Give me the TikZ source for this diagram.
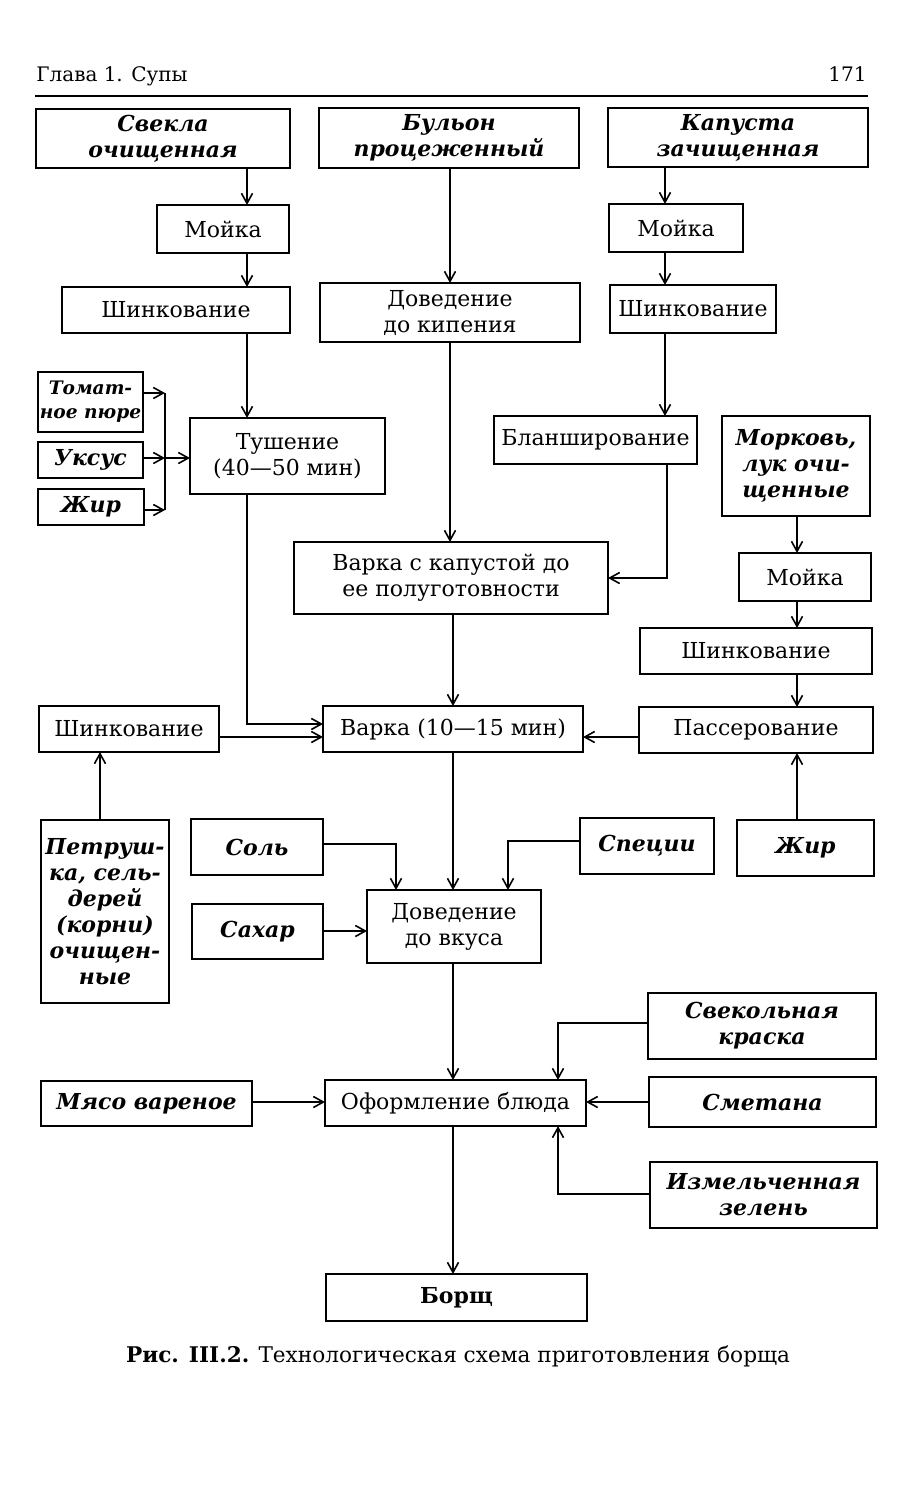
\documentclass[tikz,border=0pt]{standalone}
\usepackage{fontspec}
\setmainfont{DejaVu Serif}
\usetikzlibrary{arrows.meta}
\tikzset{
 box/.style={draw, line width=1.0pt, inner sep=0pt, outer sep=0pt, align=center, font=\fontsize{11}{13}\selectfont},
 ibox/.style={box, line width=1.4pt, font=\fontsize{11}{13}\selectfont\bfseries\itshape},
 corners/.style n args={4}{at={({(#1+#3)/2},{(#2+#4)/2})}, minimum width={(#3-#1)*0.5pt}, minimum height={(#4-#2)*0.5pt}},
 arr/.style={line width=0.8pt, -{Straight Barb[length=5pt,width=5.5pt]}},
 ln/.style={line width=0.8pt},
}
\begin{document}
\begin{tikzpicture}[x=0.5pt,y=-0.5pt]
\useasboundingbox (0,0) rectangle (920,1500);
\fill[white] (0,0) rectangle (920,1500);

% header
\node[anchor=base west, inner sep=0pt, font=\fontsize{10}{12}\selectfont] (hdr) at (36,81) {Глава 1. Супы};
\node[anchor=base east, inner sep=0pt, font=\fontsize{10}{12}\selectfont] (pg) at (867,81) {171};
\coordinate (hl) at (35,96);
\coordinate (hr) at (868,96);
\draw[line width=0.9pt] (hl) -- (hr);

% column / row coordinates
\coordinate (c1) at (247,0);
\coordinate (c2) at (450,0);
\coordinate (c2b) at (453,0);
\coordinate (c3) at (665,0);
\coordinate (c3b) at (667,0);
\coordinate (c4) at (797,0);
\coordinate (c5) at (100,0);
\coordinate (c6) at (396,0);
\coordinate (c7) at (508,0);
\coordinate (c8) at (558,0);
\coordinate (br) at (165,0);
\coordinate (yt) at (0,393);
\coordinate (yu) at (0,458);
\coordinate (yz) at (0,510);
\coordinate (yb) at (0,578);
\coordinate (r1) at (0,724);
\coordinate (r2) at (0,737);
\coordinate (ys) at (0,844);
\coordinate (ysp) at (0,841);
\coordinate (ysa) at (0,931);
\coordinate (yk) at (0,1023);
\coordinate (ysm) at (0,1102);
\coordinate (yzl) at (0,1194);

% top row
\node[ibox, corners={36}{109}{290}{168}] (svekla) {Свекла\\очищенная};
\node[ibox, corners={319}{108}{579}{168}] (bulon) {Бульон\\процеженный};
\node[ibox, corners={608}{108}{868}{167}] (kapusta) {Капуста\\зачищенная};

\node[box, corners={157}{205}{289}{253}] (moika1) {Мойка};
\node[box, corners={609}{204}{743}{252}] (moika2) {Мойка};
\node[box, corners={62}{287}{290}{333}] (shink1) {Шинкование};
\node[box, corners={320}{283}{580}{342}] (dovkip) {Доведение\\до кипения};
\node[box, corners={610}{285}{776}{333}] (shink2) {Шинкование};

\node[ibox, corners={38}{372}{143}{432}, font=\fontsize{9.3}{12}\selectfont\bfseries\itshape] (tomat) {Томат-\\ное пюре};
\node[ibox, corners={38}{442}{143}{478}] (uksus) {Уксус};
\node[ibox, corners={38}{489}{144}{525}] (zhir1) {Жир};
\node[box, corners={190}{418}{385}{494}] (tush) {Тушение\\(40—50 мин)};
\node[box, corners={494}{416}{697}{464}] (blansh) {Бланширование};
\node[ibox, corners={722}{416}{870}{516}] (mork) {Морковь,\\лук очи-\\щенные};

\node[box, corners={294}{542}{608}{614}] (varkak) {Варка с капустой до\\ее полуготовности};
\node[box, corners={739}{553}{871}{601}] (moika3) {Мойка};
\node[box, corners={640}{628}{872}{674}] (shink3) {Шинкование};

\node[box, corners={39}{706}{219}{752}] (shink4) {Шинкование};
\node[box, corners={323}{706}{583}{752}] (varka) {Варка (10—15 мин)};
\node[box, corners={639}{707}{873}{753}] (pass) {Пассерование};

\node[ibox, corners={41}{820}{169}{1003}] (petr) {Петруш-\\ка, сель-\\дерей\\(корни)\\очищен-\\ные};
\node[ibox, corners={191}{819}{323}{875}] (sol) {Соль};
\node[ibox, corners={192}{904}{323}{959}] (sahar) {Сахар};
\node[box, corners={367}{890}{541}{963}] (dovk) {Доведение\\до вкуса};
\node[ibox, corners={580}{818}{714}{874}] (spec) {Специи};
\node[ibox, corners={737}{820}{874}{876}] (zhir2) {Жир};

\node[ibox, corners={648}{993}{876}{1059}] (kraska) {Свекольная\\краска};
\node[ibox, corners={41}{1081}{252}{1126}] (myaso) {Мясо вареное};
\node[box, corners={325}{1080}{586}{1126}] (oform) {Оформление блюда};
\node[ibox, corners={649}{1077}{876}{1127}] (smet) {Сметана};
\node[ibox, corners={650}{1162}{877}{1228}] (zelen) {Измельченная\\зелень};
\node[box, corners={326}{1274}{587}{1321}, font=\fontsize{11}{13}\selectfont\bfseries] (borsch) {Борщ};

% caption
\node[anchor=base, inner sep=0pt, font=\fontsize{10.8}{12}\selectfont] (cap) at (458,1362) {\textbf{Рис. III.2.} Технологическая схема приготовления борща};

% connectors: left column
\draw[arr] (svekla.south -| c1) -- (moika1.north -| c1);
\draw[arr] (moika1.south -| c1) -- (shink1.north -| c1);
\draw[arr] (shink1.south -| c1) -- (tush.north -| c1);
\draw[arr] (tush.south -| c1) |- (varka.west |- r1);

% bracket
\draw[arr] (tomat.east |- yt) -- (br |- yt);
\draw[arr] (uksus.east |- yu) -- (br |- yu);
\draw[arr] (zhir1.east |- yz) -- (br |- yz);
\draw[ln] (br |- yt) -- (br |- yz);
\draw[arr] (br |- yu) -- (tush.west |- yu);

% middle column
\draw[arr] (bulon.south -| c2) -- (dovkip.north -| c2);
\draw[arr] (dovkip.south -| c2) -- (varkak.north -| c2);
\draw[arr] (varkak.south -| c2b) -- (varka.north -| c2b);
\draw[arr] (varka.south -| c2b) -- (dovk.north -| c2b);
\draw[arr] (dovk.south -| c2b) -- (oform.north -| c2b);
\draw[arr] (oform.south -| c2b) -- (borsch.north -| c2b);

% cabbage column
\draw[arr] (kapusta.south -| c3) -- (moika2.north -| c3);
\draw[arr] (moika2.south -| c3) -- (shink2.north -| c3);
\draw[arr] (shink2.south -| c3) -- (blansh.north -| c3);
\draw[arr] (blansh.south -| c3b) |- (varkak.east |- yb);

% carrot column
\draw[arr] (mork.south -| c4) -- (moika3.north -| c4);
\draw[arr] (moika3.south -| c4) -- (shink3.north -| c4);
\draw[arr] (shink3.south -| c4) -- (pass.north -| c4);
\draw[arr] (zhir2.north -| c4) -- (pass.south -| c4);
\draw[arr] (pass.west |- r2) -- (varka.east |- r2);

% parsley
\draw[arr] (petr.north -| c5) -- (shink4.south -| c5);
\draw[arr] (shink4.east |- r2) -- (varka.west |- r2);

% seasoning
\draw[arr] (sol.east |- ys) -| (dovk.north -| c6);
\draw[arr] (spec.west |- ysp) -| (dovk.north -| c7);
\draw[arr] (sahar.east |- ysa) -- (dovk.west |- ysa);

% finishing
\draw[arr] (kraska.west |- yk) -| (oform.north -| c8);
\draw[arr] (zelen.west |- yzl) -| (oform.south -| c8);
\draw[arr] (smet.west |- ysm) -- (oform.east |- ysm);
\draw[arr] (myaso.east |- ysm) -- (oform.west |- ysm);
\end{tikzpicture}
\end{document}
